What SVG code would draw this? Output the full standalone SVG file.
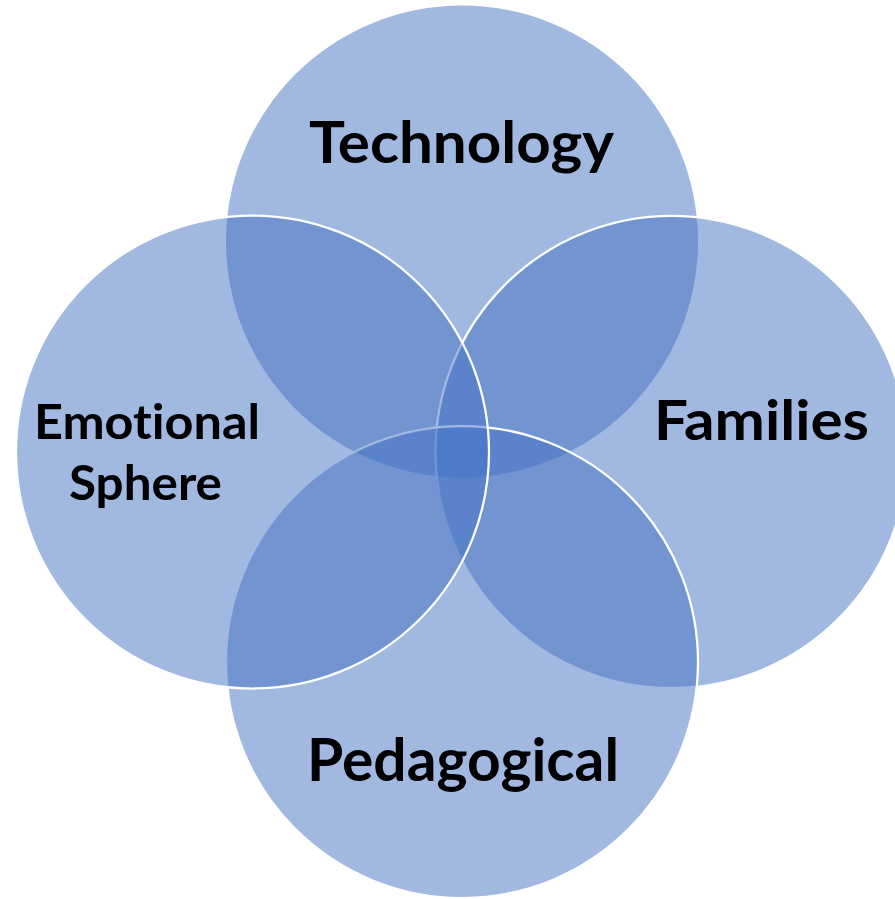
<svg xmlns="http://www.w3.org/2000/svg" width="895" height="899" viewBox="0 0 895 899">
<style>
.c{fill:#4472C4;fill-opacity:0.5;stroke:#FFFFFF;stroke-width:2.25}
.t{font-family:Lato,"Open Sans","Liberation Sans",sans-serif;font-weight:bold;fill:#000000;font-variant-ligatures:none;font-feature-settings:"liga" 0,"dlig" 0}
</style>
<rect width="895" height="899" fill="#FFFFFF"/>
<g id="node-technology-circle"><circle cx="462" cy="241.5" r="236" fill="#4472C4" fill-opacity="0.5"/></g>
<g id="node-families-circle"><circle class="c" cx="671.5" cy="452" r="236"/></g>
<g id="node-pedagogical-circle"><circle class="c" cx="462" cy="662" r="236"/></g>
<g id="node-emotional-circle"><circle class="c" cx="252.5" cy="452" r="236.5"/></g>
<g id="connectors"></g>
<g id="labels">
<g id="node-technology"><text class="t" x="309" y="163" font-size="58" textLength="305" lengthAdjust="spacingAndGlyphs">Technology</text></g>
<g id="node-emotional"><text class="t" x="34" y="439" font-size="48" textLength="226" lengthAdjust="spacingAndGlyphs">Emotional</text>
<text class="t" x="69" y="500" font-size="48" textLength="153" lengthAdjust="spacingAndGlyphs">Sphere</text></g>
<g id="node-families"><text class="t" x="654" y="440" font-size="56" textLength="215" lengthAdjust="spacingAndGlyphs">Families</text></g>
<g id="node-pedagogical"><text class="t" x="307" y="781" font-size="60" textLength="312" lengthAdjust="spacingAndGlyphs">Pedagogical</text></g>
</g>
</svg>
